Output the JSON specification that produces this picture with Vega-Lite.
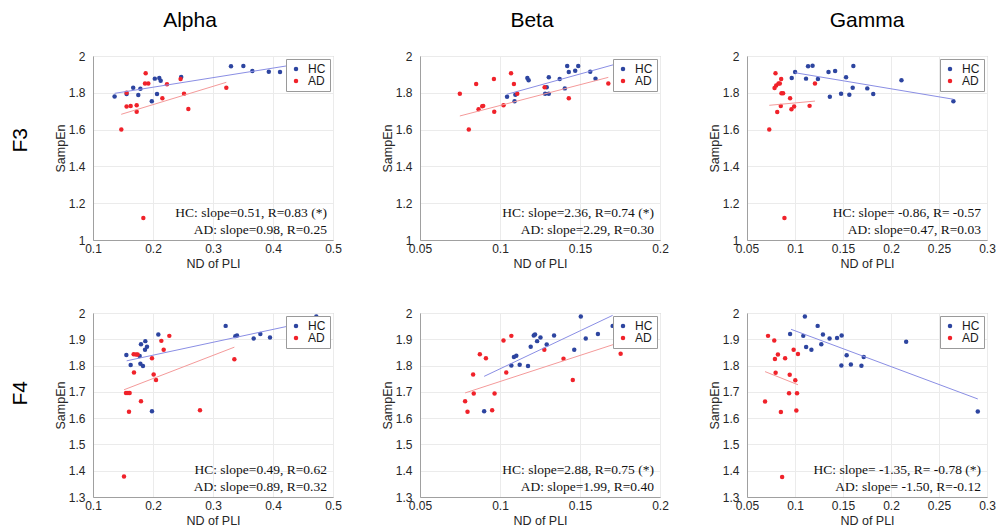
{
"$schema": "https://vega.github.io/schema/vega-lite/v6.json",
"padding": {"left": 9, "top": 9, "right": 5, "bottom": 5},
"background": "white",
"datasets": {
"pts": [
{"p":"F3A","g":"HC","x":0.136,"y":1.78},{"p":"F3A","g":"HC","x":0.156,"y":1.793},{"p":"F3A","g":"HC","x":0.167,"y":1.828},{"p":"F3A","g":"HC","x":0.1755,"y":1.788},{"p":"F3A","g":"HC","x":0.179,"y":1.822},{"p":"F3A","g":"HC","x":0.198,"y":1.754},{"p":"F3A","g":"HC","x":0.203,"y":1.877},{"p":"F3A","g":"HC","x":0.2067,"y":1.793},{"p":"F3A","g":"HC","x":0.2105,"y":1.88},{"p":"F3A","g":"HC","x":0.2128,"y":1.866},{"p":"F3A","g":"HC","x":0.247,"y":1.886},{"p":"F3A","g":"HC","x":0.33,"y":1.944},{"p":"F3A","g":"HC","x":0.3506,"y":1.946},{"p":"F3A","g":"HC","x":0.3656,"y":1.918},{"p":"F3A","g":"HC","x":0.393,"y":1.915},{"p":"F3A","g":"HC","x":0.4117,"y":1.913},
{"p":"F3A","g":"AD","x":0.156,"y":1.8},{"p":"F3A","g":"AD","x":0.156,"y":1.725},{"p":"F3A","g":"AD","x":0.1628,"y":1.728},{"p":"F3A","g":"AD","x":0.1728,"y":1.732},{"p":"F3A","g":"AD","x":0.1728,"y":1.697},{"p":"F3A","g":"AD","x":0.1878,"y":1.906},{"p":"F3A","g":"AD","x":0.1867,"y":1.85},{"p":"F3A","g":"AD","x":0.1922,"y":1.85},{"p":"F3A","g":"AD","x":0.2156,"y":1.77},{"p":"F3A","g":"AD","x":0.2233,"y":1.846},{"p":"F3A","g":"AD","x":0.246,"y":1.875},{"p":"F3A","g":"AD","x":0.2517,"y":1.795},{"p":"F3A","g":"AD","x":0.2589,"y":1.712},{"p":"F3A","g":"AD","x":0.3222,"y":1.828},{"p":"F3A","g":"AD","x":0.1472,"y":1.6},{"p":"F3A","g":"AD","x":0.1839,"y":1.12},
{"p":"F3B","g":"HC","x":0.1044,"y":1.779},{"p":"F3B","g":"HC","x":0.1091,"y":1.754},{"p":"F3B","g":"HC","x":0.1096,"y":1.79},{"p":"F3B","g":"HC","x":0.1171,"y":1.88},{"p":"F3B","g":"HC","x":0.1179,"y":1.868},{"p":"F3B","g":"HC","x":0.1282,"y":1.795},{"p":"F3B","g":"HC","x":0.1292,"y":1.83},{"p":"F3B","g":"HC","x":0.1305,"y":1.795},{"p":"F3B","g":"HC","x":0.1305,"y":1.884},{"p":"F3B","g":"HC","x":0.1373,"y":1.875},{"p":"F3B","g":"HC","x":0.1405,"y":1.824},{"p":"F3B","g":"HC","x":0.142,"y":1.946},{"p":"F3B","g":"HC","x":0.143,"y":1.913},{"p":"F3B","g":"HC","x":0.147,"y":1.92},{"p":"F3B","g":"HC","x":0.1489,"y":1.946},{"p":"F3B","g":"HC","x":0.1564,"y":1.915},{"p":"F3B","g":"HC","x":0.1597,"y":1.877},
{"p":"F3B","g":"AD","x":0.0749,"y":1.795},{"p":"F3B","g":"AD","x":0.0805,"y":1.6},{"p":"F3B","g":"AD","x":0.0851,"y":1.848},{"p":"F3B","g":"AD","x":0.0866,"y":1.71},{"p":"F3B","g":"AD","x":0.0889,"y":1.727},{"p":"F3B","g":"AD","x":0.0895,"y":1.729},{"p":"F3B","g":"AD","x":0.0962,"y":1.875},{"p":"F3B","g":"AD","x":0.0964,"y":1.697},{"p":"F3B","g":"AD","x":0.1022,"y":1.732},{"p":"F3B","g":"AD","x":0.1069,"y":1.906},{"p":"F3B","g":"AD","x":0.1087,"y":1.848},{"p":"F3B","g":"AD","x":0.1108,"y":1.795},{"p":"F3B","g":"AD","x":0.1279,"y":1.83},{"p":"F3B","g":"AD","x":0.143,"y":1.77},{"p":"F3B","g":"AD","x":0.1677,"y":1.85},
{"p":"F3G","g":"HC","x":0.0966,"y":1.88},{"p":"F3G","g":"HC","x":0.1001,"y":1.913},{"p":"F3G","g":"HC","x":0.1115,"y":1.877},{"p":"F3G","g":"HC","x":0.1136,"y":1.944},{"p":"F3G","g":"HC","x":0.1183,"y":1.947},{"p":"F3G","g":"HC","x":0.1239,"y":1.875},{"p":"F3G","g":"HC","x":0.1349,"y":1.913},{"p":"F3G","g":"HC","x":0.1418,"y":1.918},{"p":"F3G","g":"HC","x":0.1363,"y":1.779},{"p":"F3G","g":"HC","x":0.148,"y":1.795},{"p":"F3G","g":"HC","x":0.1532,"y":1.884},{"p":"F3G","g":"HC","x":0.1566,"y":1.79},{"p":"F3G","g":"HC","x":0.1601,"y":1.828},{"p":"F3G","g":"HC","x":0.1608,"y":1.946},{"p":"F3G","g":"HC","x":0.1753,"y":1.824},{"p":"F3G","g":"HC","x":0.1815,"y":1.793},{"p":"F3G","g":"HC","x":0.2109,"y":1.868},{"p":"F3G","g":"HC","x":0.265,"y":1.754},
{"p":"F3G","g":"AD","x":0.0797,"y":1.906},{"p":"F3G","g":"AD","x":0.0787,"y":1.826},{"p":"F3G","g":"AD","x":0.0804,"y":1.84},{"p":"F3G","g":"AD","x":0.0828,"y":1.85},{"p":"F3G","g":"AD","x":0.0842,"y":1.85},{"p":"F3G","g":"AD","x":0.0856,"y":1.875},{"p":"F3G","g":"AD","x":0.0859,"y":1.797},{"p":"F3G","g":"AD","x":0.0876,"y":1.797},{"p":"F3G","g":"AD","x":0.0949,"y":1.77},{"p":"F3G","g":"AD","x":0.0815,"y":1.696},{"p":"F3G","g":"AD","x":0.0852,"y":1.728},{"p":"F3G","g":"AD","x":0.0963,"y":1.71},{"p":"F3G","g":"AD","x":0.0991,"y":1.725},{"p":"F3G","g":"AD","x":0.0732,"y":1.6},{"p":"F3G","g":"AD","x":0.1152,"y":1.729},{"p":"F3G","g":"AD","x":0.1208,"y":1.85},{"p":"F3G","g":"AD","x":0.089,"y":1.12},
{"p":"F4A","g":"HC","x":0.1556,"y":1.84},{"p":"F4A","g":"HC","x":0.1628,"y":1.802},{"p":"F4A","g":"HC","x":0.1778,"y":1.836},{"p":"F4A","g":"HC","x":0.18,"y":1.881},{"p":"F4A","g":"HC","x":0.179,"y":1.807},{"p":"F4A","g":"HC","x":0.1833,"y":1.798},{"p":"F4A","g":"HC","x":0.1867,"y":1.86},{"p":"F4A","g":"HC","x":0.1872,"y":1.893},{"p":"F4A","g":"HC","x":0.19,"y":1.872},{"p":"F4A","g":"HC","x":0.2089,"y":1.918},{"p":"F4A","g":"HC","x":0.1983,"y":1.626},{"p":"F4A","g":"HC","x":0.3211,"y":1.951},{"p":"F4A","g":"HC","x":0.3372,"y":1.912},{"p":"F4A","g":"HC","x":0.34,"y":1.914},{"p":"F4A","g":"HC","x":0.3678,"y":1.903},{"p":"F4A","g":"HC","x":0.3789,"y":1.92},{"p":"F4A","g":"HC","x":0.395,"y":1.907},{"p":"F4A","g":"HC","x":0.4722,"y":1.987},
{"p":"F4A","g":"AD","x":0.155,"y":1.696},{"p":"F4A","g":"AD","x":0.1583,"y":1.696},{"p":"F4A","g":"AD","x":0.1611,"y":1.696},{"p":"F4A","g":"AD","x":0.16,"y":1.624},{"p":"F4A","g":"AD","x":0.1678,"y":1.843},{"p":"F4A","g":"AD","x":0.1717,"y":1.842},{"p":"F4A","g":"AD","x":0.1744,"y":1.842},{"p":"F4A","g":"AD","x":0.1683,"y":1.774},{"p":"F4A","g":"AD","x":0.18,"y":1.664},{"p":"F4A","g":"AD","x":0.1983,"y":1.828},{"p":"F4A","g":"AD","x":0.2011,"y":1.766},{"p":"F4A","g":"AD","x":0.205,"y":1.745},{"p":"F4A","g":"AD","x":0.2139,"y":1.894},{"p":"F4A","g":"AD","x":0.2178,"y":1.86},{"p":"F4A","g":"AD","x":0.2272,"y":1.913},{"p":"F4A","g":"AD","x":0.2783,"y":1.63},{"p":"F4A","g":"AD","x":0.3356,"y":1.824},{"p":"F4A","g":"AD","x":0.1517,"y":1.378},
{"p":"F4B","g":"HC","x":0.0901,"y":1.626},{"p":"F4B","g":"HC","x":0.1071,"y":1.8},{"p":"F4B","g":"HC","x":0.1087,"y":1.833},{"p":"F4B","g":"HC","x":0.1102,"y":1.837},{"p":"F4B","g":"HC","x":0.1123,"y":1.803},{"p":"F4B","g":"HC","x":0.1175,"y":1.798},{"p":"F4B","g":"HC","x":0.1192,"y":1.872},{"p":"F4B","g":"HC","x":0.1211,"y":1.914},{"p":"F4B","g":"HC","x":0.1219,"y":1.918},{"p":"F4B","g":"HC","x":0.1232,"y":1.893},{"p":"F4B","g":"HC","x":0.1253,"y":1.907},{"p":"F4B","g":"HC","x":0.1292,"y":1.88},{"p":"F4B","g":"HC","x":0.1338,"y":1.914},{"p":"F4B","g":"HC","x":0.1464,"y":1.86},{"p":"F4B","g":"HC","x":0.1505,"y":1.987},{"p":"F4B","g":"HC","x":0.1536,"y":1.903},{"p":"F4B","g":"HC","x":0.1612,"y":1.92},{"p":"F4B","g":"HC","x":0.1704,"y":1.951},
{"p":"F4B","g":"AD","x":0.0782,"y":1.664},{"p":"F4B","g":"AD","x":0.0797,"y":1.624},{"p":"F4B","g":"AD","x":0.0832,"y":1.766},{"p":"F4B","g":"AD","x":0.0836,"y":1.694},{"p":"F4B","g":"AD","x":0.0874,"y":1.843},{"p":"F4B","g":"AD","x":0.0912,"y":1.828},{"p":"F4B","g":"AD","x":0.0951,"y":1.63},{"p":"F4B","g":"AD","x":0.0966,"y":1.694},{"p":"F4B","g":"AD","x":0.1022,"y":1.895},{"p":"F4B","g":"AD","x":0.1039,"y":1.774},{"p":"F4B","g":"AD","x":0.1071,"y":1.913},{"p":"F4B","g":"AD","x":0.1277,"y":1.86},{"p":"F4B","g":"AD","x":0.1397,"y":1.826},{"p":"F4B","g":"AD","x":0.1455,"y":1.745},{"p":"F4B","g":"AD","x":0.1754,"y":1.845},
{"p":"F4G","g":"HC","x":0.0949,"y":1.92},{"p":"F4G","g":"HC","x":0.1103,"y":1.987},{"p":"F4G","g":"HC","x":0.1086,"y":1.913},{"p":"F4G","g":"HC","x":0.1116,"y":1.871},{"p":"F4G","g":"HC","x":0.1171,"y":1.86},{"p":"F4G","g":"HC","x":0.1236,"y":1.951},{"p":"F4G","g":"HC","x":0.1274,"y":1.881},{"p":"F4G","g":"HC","x":0.1291,"y":1.918},{"p":"F4G","g":"HC","x":0.136,"y":1.903},{"p":"F4G","g":"HC","x":0.1438,"y":1.905},{"p":"F4G","g":"HC","x":0.1486,"y":1.914},{"p":"F4G","g":"HC","x":0.1483,"y":1.8},{"p":"F4G","g":"HC","x":0.1538,"y":1.839},{"p":"F4G","g":"HC","x":0.1582,"y":1.804},{"p":"F4G","g":"HC","x":0.1692,"y":1.799},{"p":"F4G","g":"HC","x":0.1716,"y":1.833},{"p":"F4G","g":"HC","x":0.2158,"y":1.891},{"p":"F4G","g":"HC","x":0.2904,"y":1.625},
{"p":"F4G","g":"AD","x":0.0688,"y":1.663},{"p":"F4G","g":"AD","x":0.0719,"y":1.913},{"p":"F4G","g":"AD","x":0.0784,"y":1.895},{"p":"F4G","g":"AD","x":0.0791,"y":1.825},{"p":"F4G","g":"AD","x":0.0798,"y":1.773},{"p":"F4G","g":"AD","x":0.0822,"y":1.842},{"p":"F4G","g":"AD","x":0.0853,"y":1.623},{"p":"F4G","g":"AD","x":0.0866,"y":1.376},{"p":"F4G","g":"AD","x":0.0897,"y":1.828},{"p":"F4G","g":"AD","x":0.0938,"y":1.695},{"p":"F4G","g":"AD","x":0.0945,"y":1.765},{"p":"F4G","g":"AD","x":0.0986,"y":1.86},{"p":"F4G","g":"AD","x":0.1003,"y":1.744},{"p":"F4G","g":"AD","x":0.1014,"y":1.629},{"p":"F4G","g":"AD","x":0.1021,"y":1.695},{"p":"F4G","g":"AD","x":0.1031,"y":1.844}
],
"lns": [
{"p":"F3A","g":"HC","x":0.136,"y":1.797},{"p":"F3A","g":"HC","x":0.432,"y":1.951},{"p":"F3A","g":"AD","x":0.147,"y":1.683},{"p":"F3A","g":"AD","x":0.3222,"y":1.857},
{"p":"F3B","g":"HC","x":0.1044,"y":1.792},{"p":"F3B","g":"HC","x":0.174,"y":1.96},{"p":"F3B","g":"AD","x":0.0749,"y":1.674},{"p":"F3B","g":"AD","x":0.1677,"y":1.884},
{"p":"F3G","g":"HC","x":0.1001,"y":1.909},{"p":"F3G","g":"HC","x":0.265,"y":1.765},{"p":"F3G","g":"AD","x":0.0732,"y":1.732},{"p":"F3G","g":"AD","x":0.1208,"y":1.755},
{"p":"F4A","g":"HC","x":0.1561,"y":1.818},{"p":"F4A","g":"HC","x":0.4722,"y":1.973},{"p":"F4A","g":"AD","x":0.1517,"y":1.708},{"p":"F4A","g":"AD","x":0.3356,"y":1.87},
{"p":"F4B","g":"HC","x":0.0901,"y":1.759},{"p":"F4B","g":"HC","x":0.1704,"y":1.991},{"p":"F4B","g":"AD","x":0.0782,"y":1.696},{"p":"F4B","g":"AD","x":0.1754,"y":1.889},
{"p":"F4G","g":"HC","x":0.0959,"y":1.938},{"p":"F4G","g":"HC","x":0.2904,"y":1.673},{"p":"F4G","g":"AD","x":0.0688,"y":1.777},{"p":"F4G","g":"AD","x":0.1031,"y":1.727}
],
"notes": [
{"p":"F3A","t":"HC: slope=0.51, R=0.83 (*)\nAD: slope=0.98, R=0.25"},
{"p":"F3B","t":"HC: slope=2.36, R=0.74 (*)\nAD: slope=2.29, R=0.30"},
{"p":"F3G","t":"HC: slope= -0.86, R= -0.57\nAD: slope=0.47, R=0.03"},
{"p":"F4A","t":"HC: slope=0.49, R=0.62\nAD: slope=0.89, R=0.32"},
{"p":"F4B","t":"HC: slope=2.88, R=0.75 (*)\nAD: slope=1.99, R=0.40"},
{"p":"F4G","t":"HC: slope= -1.35, R= -0.78 (*)\nAD: slope= -1.50, R=-0.12"}
]
},
"vconcat": [
{
"title": {"text": "F3", "orient": "left", "anchor": "middle", "frame": "bounds", "fontSize": 21, "fontWeight": "normal", "font": "Liberation Sans", "color": "black", "offset": 23, "dx": -0.5},
"bounds": "flush", "spacing": 87,
"resolve": {"scale": {"x": "independent", "y": "independent", "color": "independent", "stroke": "independent"}, "legend": {"color": "independent", "stroke": "independent"}},
"hconcat": [
{"width": 240, "height": 184,
"title": {"text": "Alpha", "anchor": "middle", "frame": "group", "fontSize": 21, "fontWeight": "normal", "font": "Liberation Sans", "color": "black", "offset": 19, "dx": -23},
"layer": [
{"data": {"name": "pts"}, "transform": [{"filter": "datum.p == 'F3A'"}], "mark": {"type": "circle", "size": 20, "opacity": 1},
"encoding": {"x": {"field": "x", "type": "quantitative", "scale": {"domain": [0.1, 0.5], "nice": false, "zero": false}, "axis": {"values": [0.1,0.2,0.3,0.4,0.5], "tickCount": 20, "format": "~g", "labelOverlap": false, "title": "ND of PLI"}},
"y": {"field": "y", "type": "quantitative", "scale": {"domain": [1, 2], "nice": false, "zero": false}, "axis": {"values": [1,1.2,1.4,1.6,1.8,2], "tickCount": 20, "format": "~g", "labelOverlap": false, "title": "SampEn"}},
"color": {"field": "g", "type": "nominal", "scale": {"domain": ["HC","AD"], "range": ["#2d45a0","#f0222a"]}, "legend": {"title": null}}}},
{"data": {"name": "lns"}, "transform": [{"filter": "datum.p == 'F3A'"}], "mark": {"type": "line", "strokeWidth": 1},
"encoding": {"x": {"field": "x", "type": "quantitative", "scale": {"domain": [0.1, 0.5], "nice": false, "zero": false}},
"y": {"field": "y", "type": "quantitative", "scale": {"domain": [1, 2], "nice": false, "zero": false}},
"stroke": {"field": "g", "type": "nominal", "scale": {"domain": ["HC","AD"], "range": ["#8a8ee4","#f49a9a"]}, "legend": null}}},
{"data": {"name": "notes"}, "transform": [{"filter": "datum.p == 'F3A'"}], "mark": {"type": "text", "align": "right", "baseline": "bottom", "lineBreak": "\n", "lineHeight": 16.6, "font": "Liberation Serif", "fontSize": 13.5, "color": "#111111", "dx": -6, "dy": -19.6},
"encoding": {"x": {"value": "width"}, "y": {"value": "height"}, "text": {"field": "t", "type": "nominal"}}}
]},
{"width": 240, "height": 184,
"title": {"text": "Beta", "anchor": "middle", "frame": "group", "fontSize": 21, "fontWeight": "normal", "font": "Liberation Sans", "color": "black", "offset": 19, "dx": -8},
"layer": [
{"data": {"name": "pts"}, "transform": [{"filter": "datum.p == 'F3B'"}], "mark": {"type": "circle", "size": 20, "opacity": 1},
"encoding": {"x": {"field": "x", "type": "quantitative", "scale": {"domain": [0.05, 0.2], "nice": false, "zero": false}, "axis": {"values": [0.05,0.1,0.15,0.2], "tickCount": 20, "format": "~g", "labelOverlap": false, "title": "ND of PLI"}},
"y": {"field": "y", "type": "quantitative", "scale": {"domain": [1, 2], "nice": false, "zero": false}, "axis": {"values": [1,1.2,1.4,1.6,1.8,2], "tickCount": 20, "format": "~g", "labelOverlap": false, "title": "SampEn"}},
"color": {"field": "g", "type": "nominal", "scale": {"domain": ["HC","AD"], "range": ["#2d45a0","#f0222a"]}, "legend": {"title": null}}}},
{"data": {"name": "lns"}, "transform": [{"filter": "datum.p == 'F3B'"}], "mark": {"type": "line", "strokeWidth": 1},
"encoding": {"x": {"field": "x", "type": "quantitative", "scale": {"domain": [0.05, 0.2], "nice": false, "zero": false}},
"y": {"field": "y", "type": "quantitative", "scale": {"domain": [1, 2], "nice": false, "zero": false}},
"stroke": {"field": "g", "type": "nominal", "scale": {"domain": ["HC","AD"], "range": ["#8a8ee4","#f49a9a"]}, "legend": null}}},
{"data": {"name": "notes"}, "transform": [{"filter": "datum.p == 'F3B'"}], "mark": {"type": "text", "align": "right", "baseline": "bottom", "lineBreak": "\n", "lineHeight": 16.6, "font": "Liberation Serif", "fontSize": 13.5, "color": "#111111", "dx": -6, "dy": -19.6},
"encoding": {"x": {"value": "width"}, "y": {"value": "height"}, "text": {"field": "t", "type": "nominal"}}}
]},
{"width": 240, "height": 184,
"title": {"text": "Gamma", "anchor": "middle", "frame": "group", "fontSize": 21, "fontWeight": "normal", "font": "Liberation Sans", "color": "black", "offset": 19, "dx": 0},
"layer": [
{"data": {"name": "pts"}, "transform": [{"filter": "datum.p == 'F3G'"}], "mark": {"type": "circle", "size": 20, "opacity": 1},
"encoding": {"x": {"field": "x", "type": "quantitative", "scale": {"domain": [0.05, 0.3], "nice": false, "zero": false}, "axis": {"values": [0.05,0.1,0.15,0.2,0.25,0.3], "tickCount": 20, "format": "~g", "labelOverlap": false, "title": "ND of PLI"}},
"y": {"field": "y", "type": "quantitative", "scale": {"domain": [1, 2], "nice": false, "zero": false}, "axis": {"values": [1,1.2,1.4,1.6,1.8,2], "tickCount": 20, "format": "~g", "labelOverlap": false, "title": "SampEn"}},
"color": {"field": "g", "type": "nominal", "scale": {"domain": ["HC","AD"], "range": ["#2d45a0","#f0222a"]}, "legend": {"title": null}}}},
{"data": {"name": "lns"}, "transform": [{"filter": "datum.p == 'F3G'"}], "mark": {"type": "line", "strokeWidth": 1},
"encoding": {"x": {"field": "x", "type": "quantitative", "scale": {"domain": [0.05, 0.3], "nice": false, "zero": false}},
"y": {"field": "y", "type": "quantitative", "scale": {"domain": [1, 2], "nice": false, "zero": false}},
"stroke": {"field": "g", "type": "nominal", "scale": {"domain": ["HC","AD"], "range": ["#8a8ee4","#f49a9a"]}, "legend": null}}},
{"data": {"name": "notes"}, "transform": [{"filter": "datum.p == 'F3G'"}], "mark": {"type": "text", "align": "right", "baseline": "bottom", "lineBreak": "\n", "lineHeight": 16.6, "font": "Liberation Serif", "fontSize": 13.5, "color": "#111111", "dx": -6, "dy": -19.6},
"encoding": {"x": {"value": "width"}, "y": {"value": "height"}, "text": {"field": "t", "type": "nominal"}}}
]}
]
},
{
"title": {"text": "F4", "orient": "left", "anchor": "middle", "frame": "bounds", "fontSize": 21, "fontWeight": "normal", "font": "Liberation Sans", "color": "black", "offset": 23, "dx": 23.5},
"bounds": "flush", "spacing": 87,
"resolve": {"scale": {"x": "independent", "y": "independent", "color": "independent", "stroke": "independent"}, "legend": {"color": "independent", "stroke": "independent"}},
"hconcat": [
{"width": 240, "height": 184,
"layer": [
{"data": {"name": "pts"}, "transform": [{"filter": "datum.p == 'F4A'"}], "mark": {"type": "circle", "size": 20, "opacity": 1},
"encoding": {"x": {"field": "x", "type": "quantitative", "scale": {"domain": [0.1, 0.5], "nice": false, "zero": false}, "axis": {"values": [0.1,0.2,0.3,0.4,0.5], "tickCount": 20, "format": "~g", "labelOverlap": false, "title": "ND of PLI"}},
"y": {"field": "y", "type": "quantitative", "scale": {"domain": [1.3, 2], "nice": false, "zero": false}, "axis": {"values": [1.3,1.4,1.5,1.6,1.7,1.8,1.9,2], "tickCount": 20, "format": "~g", "labelOverlap": false, "title": "SampEn"}},
"color": {"field": "g", "type": "nominal", "scale": {"domain": ["HC","AD"], "range": ["#2d45a0","#f0222a"]}, "legend": {"title": null}}}},
{"data": {"name": "lns"}, "transform": [{"filter": "datum.p == 'F4A'"}], "mark": {"type": "line", "strokeWidth": 1},
"encoding": {"x": {"field": "x", "type": "quantitative", "scale": {"domain": [0.1, 0.5], "nice": false, "zero": false}},
"y": {"field": "y", "type": "quantitative", "scale": {"domain": [1.3, 2], "nice": false, "zero": false}},
"stroke": {"field": "g", "type": "nominal", "scale": {"domain": ["HC","AD"], "range": ["#8a8ee4","#f49a9a"]}, "legend": null}}},
{"data": {"name": "notes"}, "transform": [{"filter": "datum.p == 'F4A'"}], "mark": {"type": "text", "align": "right", "baseline": "bottom", "lineBreak": "\n", "lineHeight": 16.6, "font": "Liberation Serif", "fontSize": 13.5, "color": "#111111", "dx": -6, "dy": -19.6},
"encoding": {"x": {"value": "width"}, "y": {"value": "height"}, "text": {"field": "t", "type": "nominal"}}}
]},
{"width": 240, "height": 184,
"layer": [
{"data": {"name": "pts"}, "transform": [{"filter": "datum.p == 'F4B'"}], "mark": {"type": "circle", "size": 20, "opacity": 1},
"encoding": {"x": {"field": "x", "type": "quantitative", "scale": {"domain": [0.05, 0.2], "nice": false, "zero": false}, "axis": {"values": [0.05,0.1,0.15,0.2], "tickCount": 20, "format": "~g", "labelOverlap": false, "title": "ND of PLI"}},
"y": {"field": "y", "type": "quantitative", "scale": {"domain": [1.3, 2], "nice": false, "zero": false}, "axis": {"values": [1.3,1.4,1.5,1.6,1.7,1.8,1.9,2], "tickCount": 20, "format": "~g", "labelOverlap": false, "title": "SampEn"}},
"color": {"field": "g", "type": "nominal", "scale": {"domain": ["HC","AD"], "range": ["#2d45a0","#f0222a"]}, "legend": {"title": null}}}},
{"data": {"name": "lns"}, "transform": [{"filter": "datum.p == 'F4B'"}], "mark": {"type": "line", "strokeWidth": 1},
"encoding": {"x": {"field": "x", "type": "quantitative", "scale": {"domain": [0.05, 0.2], "nice": false, "zero": false}},
"y": {"field": "y", "type": "quantitative", "scale": {"domain": [1.3, 2], "nice": false, "zero": false}},
"stroke": {"field": "g", "type": "nominal", "scale": {"domain": ["HC","AD"], "range": ["#8a8ee4","#f49a9a"]}, "legend": null}}},
{"data": {"name": "notes"}, "transform": [{"filter": "datum.p == 'F4B'"}], "mark": {"type": "text", "align": "right", "baseline": "bottom", "lineBreak": "\n", "lineHeight": 16.6, "font": "Liberation Serif", "fontSize": 13.5, "color": "#111111", "dx": -6, "dy": -19.6},
"encoding": {"x": {"value": "width"}, "y": {"value": "height"}, "text": {"field": "t", "type": "nominal"}}}
]},
{"width": 240, "height": 184,
"layer": [
{"data": {"name": "pts"}, "transform": [{"filter": "datum.p == 'F4G'"}], "mark": {"type": "circle", "size": 20, "opacity": 1},
"encoding": {"x": {"field": "x", "type": "quantitative", "scale": {"domain": [0.05, 0.3], "nice": false, "zero": false}, "axis": {"values": [0.05,0.1,0.15,0.2,0.25,0.3], "tickCount": 20, "format": "~g", "labelOverlap": false, "title": "ND of PLI"}},
"y": {"field": "y", "type": "quantitative", "scale": {"domain": [1.3, 2], "nice": false, "zero": false}, "axis": {"values": [1.3,1.4,1.5,1.6,1.7,1.8,1.9,2], "tickCount": 20, "format": "~g", "labelOverlap": false, "title": "SampEn"}},
"color": {"field": "g", "type": "nominal", "scale": {"domain": ["HC","AD"], "range": ["#2d45a0","#f0222a"]}, "legend": {"title": null}}}},
{"data": {"name": "lns"}, "transform": [{"filter": "datum.p == 'F4G'"}], "mark": {"type": "line", "strokeWidth": 1},
"encoding": {"x": {"field": "x", "type": "quantitative", "scale": {"domain": [0.05, 0.3], "nice": false, "zero": false}},
"y": {"field": "y", "type": "quantitative", "scale": {"domain": [1.3, 2], "nice": false, "zero": false}},
"stroke": {"field": "g", "type": "nominal", "scale": {"domain": ["HC","AD"], "range": ["#8a8ee4","#f49a9a"]}, "legend": null}}},
{"data": {"name": "notes"}, "transform": [{"filter": "datum.p == 'F4G'"}], "mark": {"type": "text", "align": "right", "baseline": "bottom", "lineBreak": "\n", "lineHeight": 16.6, "font": "Liberation Serif", "fontSize": 13.5, "color": "#111111", "dx": -6, "dy": -19.6},
"encoding": {"x": {"value": "width"}, "y": {"value": "height"}, "text": {"field": "t", "type": "nominal"}}}
]}
]
}
],
"bounds": "flush",
"spacing": 257,
"resolve": {"scale": {"x": "independent", "y": "independent", "color": "independent", "stroke": "independent"}, "legend": {"color": "independent", "stroke": "independent"}},
"config": {
"font": "Liberation Sans",
"view": {"stroke": "#b8b8b8", "strokeWidth": 1},
"axis": {"gridColor": "#ebebeb", "gridWidth": 1, "domainColor": "#a0a0a0", "ticks": false, "labelOverlap": false, "labelFlush": false, "labelFontSize": 12, "labelColor": "#262626", "labelFont": "Liberation Sans", "titleFontSize": 12.5, "titleFontWeight": "normal", "titleColor": "#262626", "titleFont": "Liberation Sans"},
"axisX": {"labelPadding": 3, "titlePadding": 3},
"axisY": {"labelPadding": 8, "titlePadding": 1},
"legend": {"orient": "top-right", "offset": 3, "padding": 4, "strokeColor": "#9a9a9a", "fillColor": "#ffffff", "symbolType": "circle", "symbolSize": 20, "symbolStrokeWidth": 0, "labelFontSize": 12, "labelColor": "#1a1a1a", "labelFont": "Liberation Sans", "rowPadding": 0, "labelOffset": 6, "cornerRadius": 0}
}
}
